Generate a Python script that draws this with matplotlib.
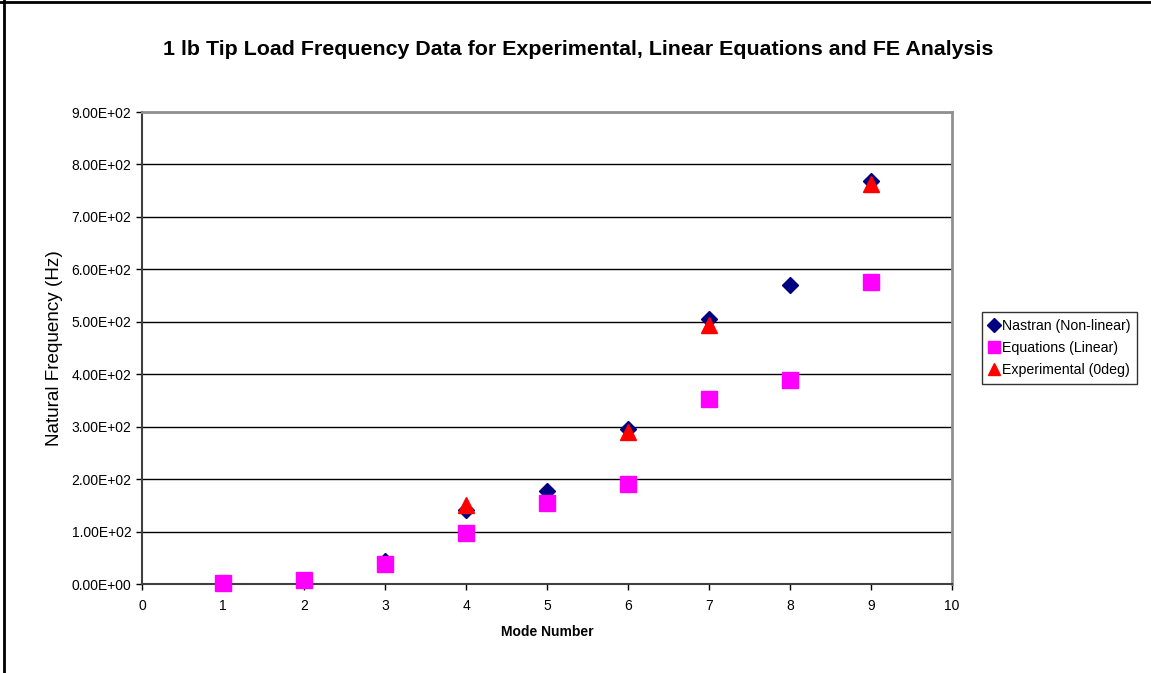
import matplotlib.pyplot as plt
from matplotlib.lines import Line2D

# valori
modi = [1, 2, 3, 4, 5, 6, 7, 8, 9]
nastran = [2.5, 7.5, 44, 141, 177, 296, 505, 570, 768]
equazioni = [2.5, 7.5, 39, 97, 155, 191, 353, 390, 575]
modi_sper = [4, 6, 7, 9]
sperimentale = [150, 290, 493, 762]

y_ticks = [0, 100, 200, 300, 400, 500, 600, 700, 800, 900]
x_ticks = [0, 1, 2, 3, 4, 5, 6, 7, 8, 9, 10]

plt.rcParams['font.family'] = ['Liberation Sans', 'DejaVu Sans']

fig = plt.figure(figsize=(11.51, 6.73), dpi=100)
ax = fig.add_axes([0.1234, 0.1322, 0.7037, 0.7013])

ax.plot(modi, nastran, linestyle='none', marker='D', ms=8, color='#000080',
        label='Nastran (Non-linear)', zorder=3, clip_on=False)
ax.plot(modi, equazioni, linestyle='none', marker='s', ms=11, color='#FF00FF',
        label='Equations (Linear)', zorder=4, clip_on=False)
ax.plot(modi_sper, sperimentale, linestyle='none', marker='^', ms=11, color='#FF0000',
        label='Experimental (0deg)', zorder=5, clip_on=False)

ax.set_xlim(0, 10)
ax.set_ylim(0, 900)
ax.set_xticks(x_ticks)
ax.set_yticks(y_ticks)
ax.set_yticklabels([f"{v:.2E}" for v in y_ticks])
ax.tick_params(labelsize=10, length=4.5, width=1, color='black', direction='out', pad=3)
ax.tick_params(axis='x', pad=6)
ax.grid(axis='y', color='black', linewidth=1)
ax.set_axisbelow(True)

for s in ['left', 'bottom']:
    ax.spines[s].set_color('#404040')
    ax.spines[s].set_linewidth(1.5)
for s in ['top', 'right']:
    ax.spines[s].set_color('#909090')
    ax.spines[s].set_linewidth(2)

ax.set_xlabel('Mode Number', fontsize=10, fontweight='bold', labelpad=9)
ax.set_ylabel('Natural Frequency (Hz)', fontsize=13.6, labelpad=6)

fig.text(0.502, 0.927, '1 lb Tip Load Frequency Data for Experimental, Linear Equations and FE Analysis',
         ha='center', va='center', fontsize=15.4, fontweight='bold')

leg = ax.legend(loc='center left', bbox_to_anchor=(1.028, 0.5), fontsize=10.2,
                frameon=True, fancybox=False, edgecolor='black', handlelength=0.7,
                handletextpad=0.2, borderpad=0.5, labelspacing=0.55, markerscale=0.85)
leg.get_frame().set_linewidth(1)

# bordo esterno (solo sinistra e sopra visibili)
fig.add_artist(Line2D([0.0035, 0.0035], [0, 1], transform=fig.transFigure, color='black', lw=2))
fig.add_artist(Line2D([0, 1], [0.9965, 0.9965], transform=fig.transFigure, color='black', lw=2))

fig.savefig('out.png', dpi=100)
